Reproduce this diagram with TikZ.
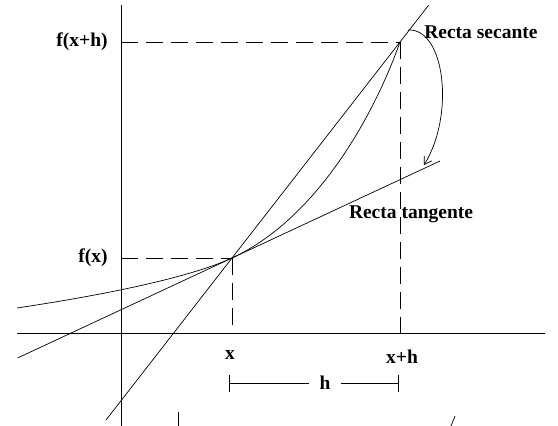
\documentclass[tikz,border=0pt]{standalone}
\usepackage{fontspec}
\setmainfont{Liberation Serif}
\usetikzlibrary{arrows.meta,calc}

\begin{document}
\begin{tikzpicture}[x=1pt,y=-1pt,line width=0.7pt,
    lbl/.style={font=\bfseries\fontsize{19.5}{22}\selectfont,inner sep=1pt},
    guide/.style={dash pattern=on 17pt off 8pt}]
  \useasboundingbox (0,0) rectangle (558,426);
  \coordinate (P) at (232,258);
  \coordinate (Q) at (400,42);
  \coordinate (T) at (440,161);
  % axes
  \draw[line width=1pt] (17,333) -- (545,333);
  \draw[line width=1pt] (121,5) -- (121,426);
  % guides
  \draw[guide] (121,42) -- (Q);
  \draw[guide] (121,258) -- (P);
  \draw[guide] (Q) -- (400,333);
  \draw[guide] (P) -- (232,333);
  % secant, tangent, curve
  \draw ($(P)!-0.75!(Q)$) -- ($(Q)!-0.17!(P)$);
  \draw ($(P)!-1.03!(T)$) -- (T);
  \draw (17,308) .. controls (70,300) and (180,282) .. (P)
        .. controls (320,217) and (376,110) .. (Q);
  \draw[-{Straight Barb[length=7pt,width=9pt]}] (408,30) .. controls (445,28) and (455,115) .. (424,165);
  % labels
  \node[lbl,anchor=east] (fxh) at (109,42) {f(x+h)};
  \node[lbl,anchor=east] (fx) at (109,258) {f(x)};
  \node[lbl] (xl) at (230,355) {x};
  \node[lbl] (xhl) at (402,357) {x+h};
  \node[lbl,inner sep=10pt] (h) at (325,383) {h};
  \node[lbl,anchor=west] (sec) at (423,32) {Recta secante};
  \node[lbl] (tan) at (411,214) {Recta tangente};
  \coordinate (hl) at (229,383);
  \coordinate (hr) at (399,383);
  \draw[{Bar[width=17pt]}-] (hl) -- (h.west);
  \draw[-{Bar[width=17pt]}] (h.east) -- (hr);
  % stray marks
  \draw (178,412) -- (178,426);
  \draw (455,416) -- (451,426);
\end{tikzpicture}
\end{document}
